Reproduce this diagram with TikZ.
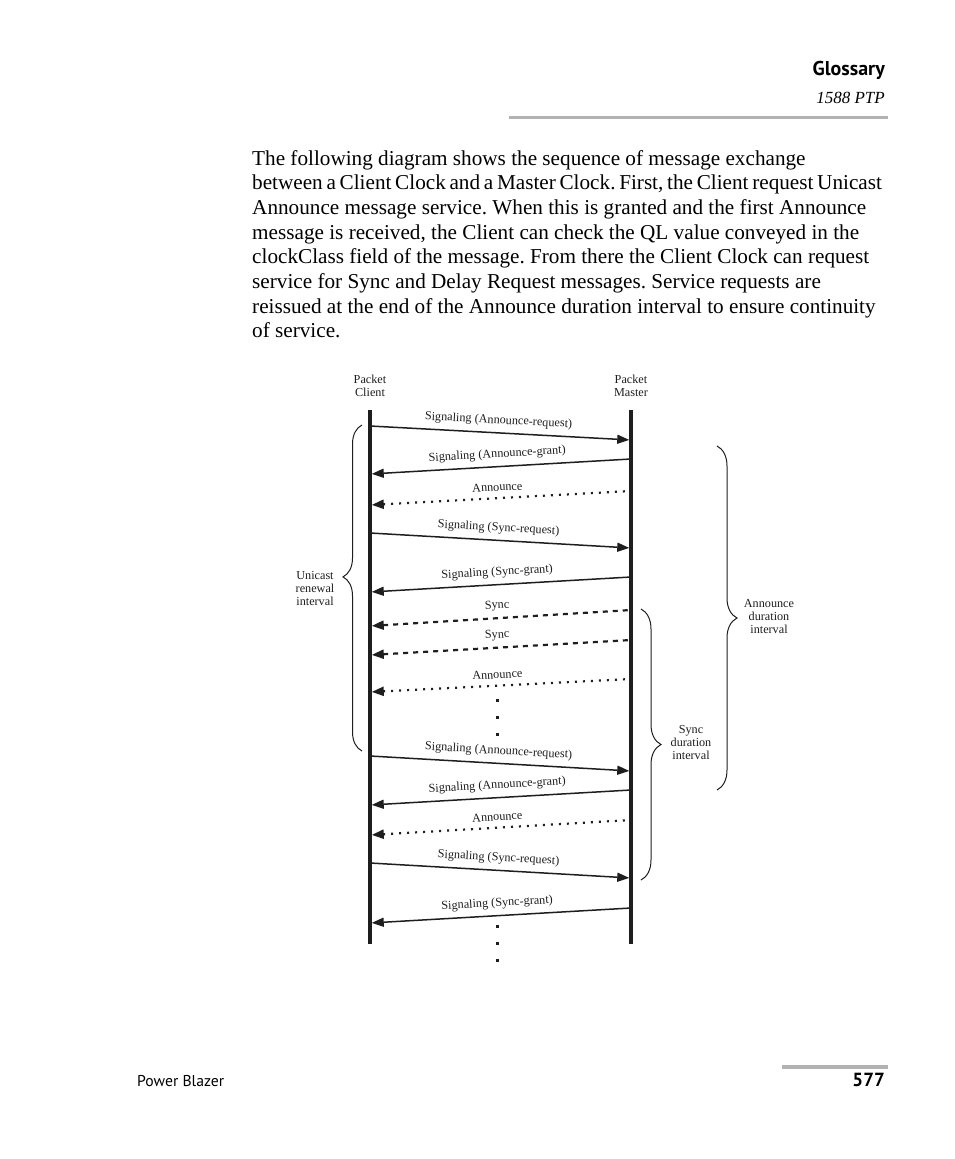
\documentclass[tikz,border=0pt]{standalone}
\usepackage{fontspec}
\setmainfont{Liberation Serif}
\newfontfamily\hdsans{PT Sans}
\usetikzlibrary{arrows.meta,decorations.pathreplacing}
\definecolor{rulegray}{RGB}{178,178,178}
\definecolor{ink}{RGB}{30,30,30}
\frenchspacing
\tikzset{
  paraline/.style={anchor=base west, inner sep=0pt, font=\fontsize{21.2}{24}\selectfont},
  dlabel/.style={font=\fontsize{12.2}{13}\selectfont, text=ink},
  lifeline/.style={line width=3.5pt, ink},
  reqmsg/.style={line width=1.5pt, ink, -{Triangle[length=12pt,width=9pt]}, shorten >=1.75pt},
  grantmsg/.style={line width=1.5pt, ink, {Triangle[length=12pt,width=9pt]}-, shorten <=1.75pt},
  dotmsg/.style={line width=2.2pt, ink, dash pattern=on 2pt off 6pt, {Triangle[length=12pt,width=9pt]}-, shorten <=1.75pt, shorten >=3pt},
  dashmsg/.style={line width=2.2pt, ink, dash pattern=on 5pt off 5pt, {Triangle[length=12pt,width=9pt]}-, shorten <=1.75pt},
  msglabel/.style={dlabel, sloped, above=2.5pt, pos=0.49},
  bracket/.style={decorate, line width=1pt, ink},
  dotsq/.style={fill=ink, minimum size=3pt, inner sep=0pt, draw=none}
}
\begin{document}
\begin{tikzpicture}[x=1pt,y=-1pt]
\useasboundingbox (0,0) rectangle (954,1159);
% header
\node[anchor=base east, inner sep=0pt, font=\hdsans\bfseries\fontsize{20}{22}\selectfont] (gloss) at (885,75) {Glossary};
\node[anchor=base east, inner sep=0pt, font=\itshape\fontsize{17}{20}\selectfont] (ptp) at (885,103) {1588 PTP};
\coordinate (hr1) at (509,117); \coordinate (hr2) at (888,117);
\draw[rulegray, line width=3pt] (hr1) -- (hr2);
% paragraph
\node[paraline] (p1) at (252,165.0) {The following diagram shows the sequence of message exchange};
\node[paraline] (p2) at (252,189.7) {\spaceskip=0.175em between a Client Clock and a Master Clock. First, the Client request Unicast};
\node[paraline] (p3) at (252,214.4) {Announce message service. When this is granted and the first Announce};
\node[paraline] (p4) at (252,239.1) {message is received, the Client can check the QL value conveyed in the};
\node[paraline] (p5) at (252,263.8) {clockClass field of the message. From there the Client Clock can request};
\node[paraline] (p6) at (252,288.5) {service for Sync and Delay Request messages. Service requests are};
\node[paraline] (p7) at (252,313.2) {reissued at the end of the Announce duration interval to ensure continuity};
\node[paraline] (p8) at (252,337.9) {of service.};
% lifeline headers
\node[dlabel, align=center, inner sep=0pt] (client) at (370,386) {Packet\\Client};
\node[dlabel, align=center, inner sep=0pt] (master) at (631,386) {Packet\\Master};
% lifelines
\coordinate (ctop) at (370,410); \coordinate (cbot) at (370,944);
\coordinate (mtop) at (631,410); \coordinate (mbot) at (631,944);
\draw[lifeline] (ctop) -- (cbot);
\draw[lifeline] (mtop) -- (mbot);
% message end points
\coordinate (c1) at (370,426); \coordinate (m1) at (631,440);
\coordinate (c2) at (370,474); \coordinate (m2) at (631,459);
\coordinate (c3) at (370,505); \coordinate (m3) at (631,491);
\coordinate (c4) at (370,533); \coordinate (m4) at (631,548);
\coordinate (c5) at (370,592); \coordinate (m5) at (631,577);
\coordinate (c6) at (370,626); \coordinate (m6) at (631,610);
\coordinate (c7) at (370,655); \coordinate (m7) at (631,640);
\coordinate (c8) at (370,692); \coordinate (m8) at (631,679);
\coordinate (c9) at (370,756); \coordinate (m9) at (631,771);
\coordinate (c10) at (370,805); \coordinate (m10) at (631,790);
\coordinate (c11) at (370,835); \coordinate (m11) at (631,820);
\coordinate (c12) at (370,863); \coordinate (m12) at (631,878);
\coordinate (c13) at (370,923); \coordinate (m13) at (631,908);
% messages
\draw[reqmsg] (c1) -- node[msglabel] (l1) {Signaling (Announce-request)} (m1);
\draw[grantmsg] (c2) -- node[msglabel] (l2) {Signaling (Announce-grant)} (m2);
\draw[dotmsg] (c3) -- node[msglabel] (l3) {Announce} (m3);
\draw[reqmsg] (c4) -- node[msglabel] (l4) {Signaling (Sync-request)} (m4);
\draw[grantmsg] (c5) -- node[msglabel] (l5) {Signaling (Sync-grant)} (m5);
\draw[dashmsg] (c6) -- node[msglabel] (l6) {Sync} (m6);
\draw[dashmsg] (c7) -- node[msglabel] (l7) {Sync} (m7);
\draw[dotmsg] (c8) -- node[msglabel] (l8) {Announce} (m8);
\draw[reqmsg] (c9) -- node[msglabel] (l9) {Signaling (Announce-request)} (m9);
\draw[grantmsg] (c10) -- node[msglabel] (l10) {Signaling (Announce-grant)} (m10);
\draw[dotmsg] (c11) -- node[msglabel] (l11) {Announce} (m11);
\draw[reqmsg] (c12) -- node[msglabel] (l12) {Signaling (Sync-request)} (m12);
\draw[grantmsg] (c13) -- node[msglabel] (l13) {Signaling (Sync-grant)} (m13);
% vertical ellipses
\node[dotsq] (e1) at (497,700) {};
\node[dotsq] (e2) at (497,717) {};
\node[dotsq] (e3) at (497,734) {};
\node[dotsq] (e4) at (497,926) {};
\node[dotsq] (e5) at (497,943) {};
\node[dotsq] (e6) at (497,960) {};
% braces
\coordinate (ub1) at (362,751); \coordinate (ub2) at (362,425);
\draw[bracket, decoration={brace, amplitude=19pt, aspect=0.534}] (ub1) -- (ub2);
\node[dlabel, align=center, inner sep=0pt] (unicast) at (315,589) {Unicast\\renewal\\interval};
\coordinate (ab1) at (717,446); \coordinate (ab2) at (717,790);
\draw[bracket, decoration={brace, amplitude=20pt, aspect=0.5}] (ab1) -- (ab2);
\node[dlabel, align=center, inner sep=0pt] (anndur) at (769,617) {Announce\\duration\\interval};
\coordinate (sb1) at (641,609); \coordinate (sb2) at (641,880);
\draw[bracket, decoration={brace, amplitude=20pt, aspect=0.5}] (sb1) -- (sb2);
\node[dlabel, align=center, inner sep=0pt] (syncdur) at (691,743) {Sync\\duration\\interval};
% footer
\coordinate (fr1) at (782,1067); \coordinate (fr2) at (888,1067);
\draw[rulegray, line width=4pt] (fr1) -- (fr2);
\node[anchor=base west, inner sep=0pt, font=\hdsans\fontsize{15.7}{18}\selectfont] (foot) at (137,1086) {Power Blazer};
\node[anchor=base east, inner sep=0pt, font=\hdsans\bfseries\fontsize{19}{20}\selectfont] (page) at (885,1086) {577};
\end{tikzpicture}
\end{document}
